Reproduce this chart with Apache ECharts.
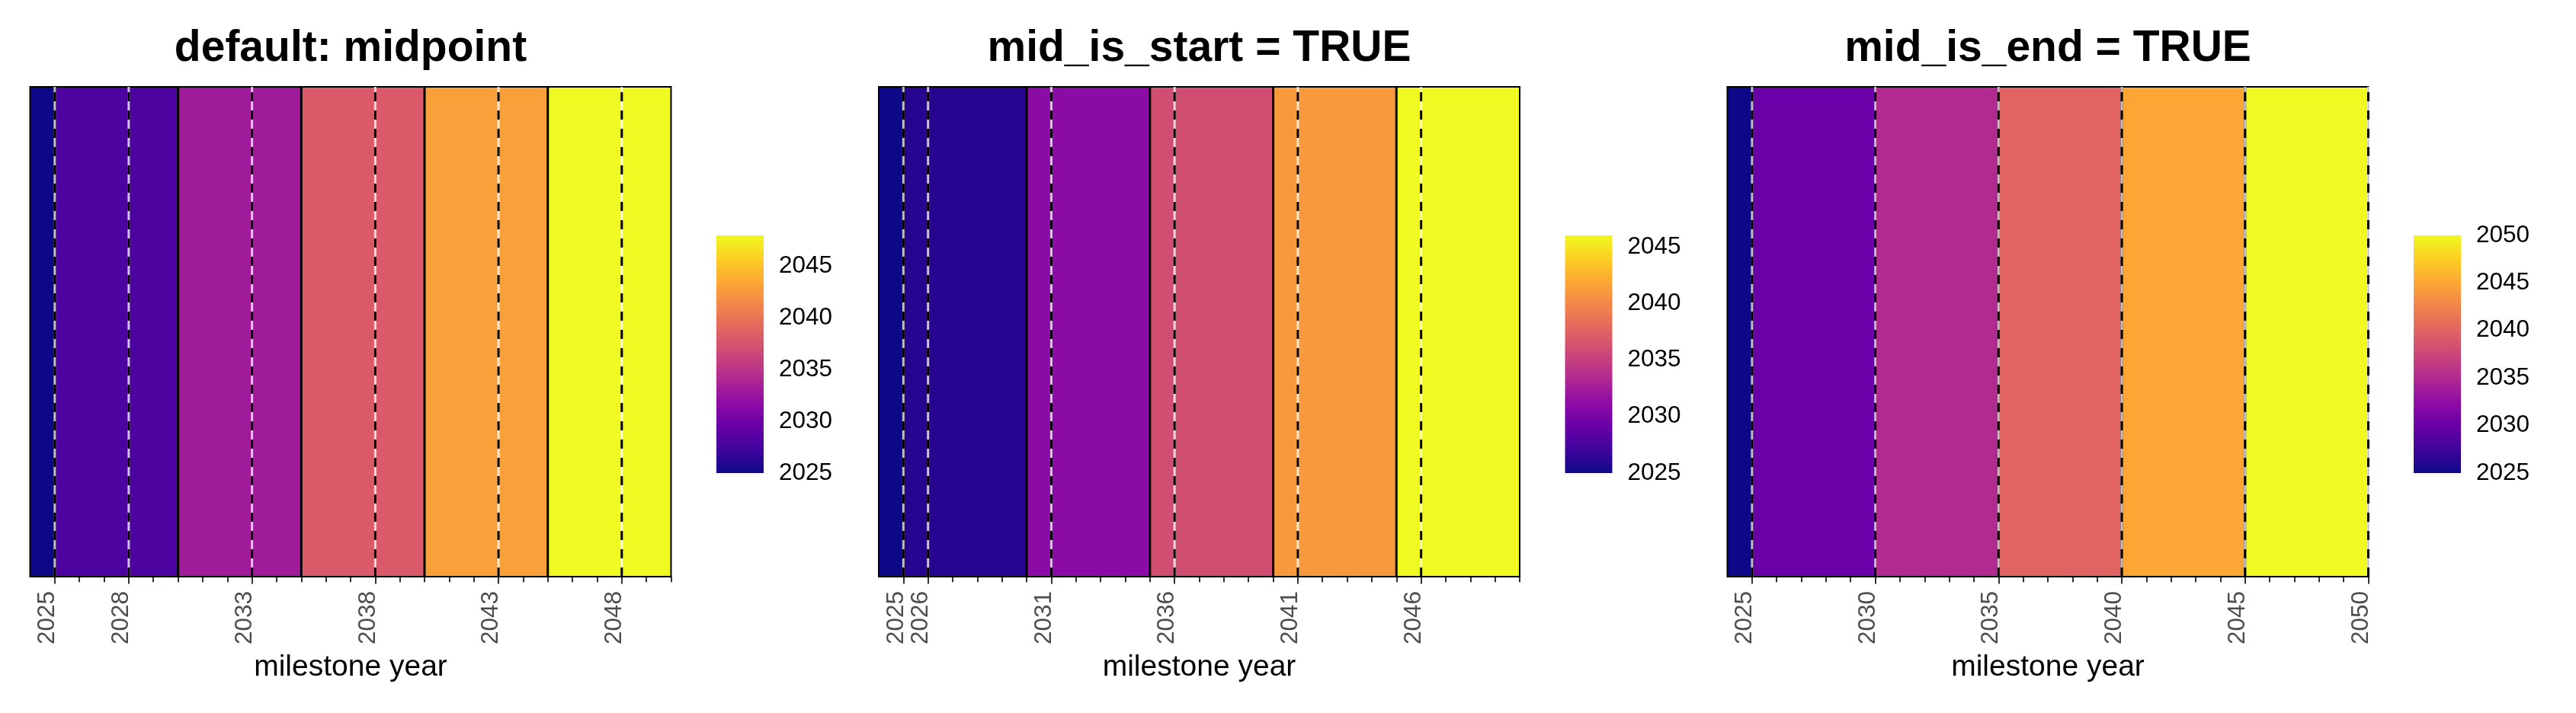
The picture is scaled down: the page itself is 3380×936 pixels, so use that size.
<!DOCTYPE html>
<html>
<head>
<meta charset="utf-8">
<script src="https://cdn.jsdelivr.net/npm/echarts@6/dist/echarts.min.js"></script>
<style>
  html, body { margin: 0; padding: 0; background: #ffffff; }
  #chart { width: 3380px; height: 936px; }
</style>
</head>
<body>
<div id="chart"></div>
<script>
// periods shared by all three panels
var periodStart = [2024, 2025, 2030, 2035, 2040, 2045];
var periodEnd = [2025, 2030, 2035, 2040, 2045, 2050];

// milestone year that represents each period
var milestonesMid = [2025, 2028, 2033, 2038, 2043, 2048];
var milestonesStart = [2025, 2026, 2031, 2036, 2041, 2046];
var milestonesEnd = [2025, 2030, 2035, 2040, 2045, 2050];

var panelTitles = ['default: midpoint', 'mid_is_start = TRUE', 'mid_is_end = TRUE'];

// colour bar labels
var legendTicksMid = [2025, 2030, 2035, 2040, 2045];
var legendTicksStart = [2025, 2030, 2035, 2040, 2045];
var legendTicksEnd = [2025, 2030, 2035, 2040, 2045, 2050];

// plasma
var plasma = ['#0d0887', '#41049d', '#6a00a8', '#8f0da4', '#b12a90', '#cc4778',
  '#e16462', '#f2844b', '#fca636', '#fcce25', '#f0f921'];

var FONT = "'Liberation Sans', Arial, sans-serif";
var xMin = 2024, xMax = 2050;

var allYears = [];
for (var yr = xMin + 1; yr <= xMax; yr++) allYears.push(yr);

var panelLeft = [39.5, 1153, 2266.5];
var panelWidth = 841;
var panelTop = 114;
var panelBottom = 757;
var barGap = 59.5, barWidth = 62, barTop = 309, barHeight = 312;

function plain(v) { return String(v); }

function tileItem(params, api) {
  var p0 = api.coord([api.value(0), 1]);
  var p1 = api.coord([api.value(1), 0]);
  return {
    type: 'rect',
    shape: { x: p0[0], y: p0[1], width: p1[0] - p0[0], height: p1[1] - p0[1] },
    style: { fill: api.visual('color') }
  };
}

function solidLine(params, api) {
  var b = api.coord([api.value(0), 0]);
  var t = api.coord([api.value(0), 1]);
  return {
    type: 'line',
    shape: { x1: b[0], y1: b[1], x2: t[0], y2: t[1] },
    style: { stroke: '#000', lineWidth: 3 }
  };
}

function dashedLine(params, api) {
  var b = api.coord([api.value(0), 0]);
  var t = api.coord([api.value(0), 1]);
  var shape = { x1: b[0], y1: b[1], x2: t[0], y2: t[1] };
  return {
    type: 'group',
    children: [
      { type: 'line', shape: shape, style: { stroke: 'rgba(255,255,255,0.75)', lineWidth: 3 } },
      { type: 'line', shape: shape, style: { stroke: '#000', lineWidth: 3, lineDash: [12, 12] } }
    ]
  };
}

function colorBar(params, api) {
  var p0 = api.coord([0, api.value(1)]);
  var p1 = api.coord([1, api.value(0)]);
  var stops = plasma.map(function (c, i) { return { offset: i / (plasma.length - 1), color: c }; });
  return {
    type: 'rect',
    shape: { x: p0[0], y: p0[1], width: p1[0] - p0[0], height: p1[1] - p0[1] },
    style: { fill: new echarts.graphic.LinearGradient(0, 1, 0, 0, stops) }
  };
}

var panels = [
  { milestones: milestonesMid, ticks: legendTicksMid },
  { milestones: milestonesStart, ticks: legendTicksStart },
  { milestones: milestonesEnd, ticks: legendTicksEnd }
];

var option = {
  backgroundColor: '#ffffff',
  animation: false,
  title: [], grid: [], xAxis: [], yAxis: [], series: [], visualMap: []
};

panels.forEach(function (pn, p) {
  var ms = pn.milestones;
  var lo = Math.min.apply(null, ms), hi = Math.max.apply(null, ms);
  var left = panelLeft[p];

  option.title.push({
    text: panelTitles[p],
    left: left + panelWidth / 2,
    top: 64,
    padding: 0,
    textAlign: 'center',
    textVerticalAlign: 'middle',
    textStyle: { fontFamily: FONT, fontSize: 57, fontWeight: 'bold', color: '#000' }
  });

  option.grid.push({
    left: left, top: panelTop, width: panelWidth, height: panelBottom - panelTop,
    show: true, z: 2, backgroundColor: 'transparent', borderColor: '#000', borderWidth: 2
  });
  option.grid.push({
    left: left + panelWidth + barGap, top: barTop, width: barWidth, height: barHeight
  });

  var g = 2 * p;
  // major ticks + labels
  option.xAxis.push({
    type: 'value', gridIndex: g, min: xMin, max: xMax, position: 'bottom',
    axisLine: { show: false, onZero: false },
    splitLine: { show: false },
    axisTick: { show: true, length: 9.5, customValues: ms, lineStyle: { color: '#333333', width: 2 } },
    axisLabel: {
      show: true, customValues: ms, rotate: 90, margin: 19, formatter: plain,
      fontFamily: FONT, fontSize: 31.5, color: '#4d4d4d',
      verticalAlign: 'bottom', lineHeight: 19
    },
    name: 'milestone year', nameLocation: 'middle', nameGap: 100,
    nameTextStyle: { fontFamily: FONT, fontSize: 39, color: '#000' }
  });
  // minor ticks for every year
  option.xAxis.push({
    type: 'value', gridIndex: g, min: xMin, max: xMax, position: 'bottom',
    axisLine: { show: false, onZero: false },
    splitLine: { show: false },
    axisTick: { show: true, length: 7.3, customValues: allYears, lineStyle: { color: '#333333', width: 2 } },
    axisLabel: { show: false }
  });
  // colour bar x
  option.xAxis.push({
    type: 'value', gridIndex: g + 1, min: 0, max: 1, show: false
  });

  option.yAxis.push({ type: 'value', gridIndex: g, min: 0, max: 1, show: false });
  option.yAxis.push({
    type: 'value', gridIndex: g + 1, min: lo, max: hi, position: 'left',
    axisLine: { show: false }, splitLine: { show: false },
    axisTick: { show: true, inside: true, length: 11, customValues: pn.ticks, lineStyle: { color: '#ffffff', width: 1.3 } },
    axisLabel: { show: false }
  });
  option.yAxis.push({
    type: 'value', gridIndex: g + 1, min: lo, max: hi, position: 'right',
    axisLine: { show: false }, splitLine: { show: false },
    axisTick: { show: true, inside: true, length: 11, customValues: pn.ticks, lineStyle: { color: '#ffffff', width: 1.3 } },
    axisLabel: { show: true, customValues: pn.ticks, margin: 20, formatter: plain, fontFamily: FONT, fontSize: 31.5, color: '#000' }
  });

  var xa = 3 * p, ya = 3 * p;
  var tiles = periodStart.map(function (s, i) { return [s, periodEnd[i], ms[i]]; });
  var sIdx = option.series.length;
  option.series.push({
    type: 'custom', xAxisIndex: xa, yAxisIndex: ya, z: 1, silent: true,
    renderItem: tileItem, encode: { x: [0, 1] }, data: tiles
  });
  option.series.push({
    type: 'custom', xAxisIndex: xa, yAxisIndex: ya, z: 3, silent: true,
    renderItem: solidLine, encode: { x: 0 },
    data: periodEnd.slice(0, -1).map(function (v) { return [v]; })
  });
  option.series.push({
    type: 'custom', xAxisIndex: xa, yAxisIndex: ya, z: 4, silent: true,
    renderItem: dashedLine, encode: { x: 0 },
    data: ms.map(function (v) { return [v]; })
  });
  option.series.push({
    type: 'custom', xAxisIndex: xa + 2, yAxisIndex: ya + 2, z: 1, silent: true,
    renderItem: colorBar, encode: { y: [0, 1] }, data: [[lo, hi]]
  });

  option.visualMap.push({
    type: 'continuous', show: false, seriesIndex: sIdx, dimension: 2,
    min: lo, max: hi, inRange: { color: plasma }
  });
});

var myChart = echarts.init(document.getElementById('chart'), null, { renderer: 'canvas' });
myChart.setOption(option);
</script>
</body>
</html>
